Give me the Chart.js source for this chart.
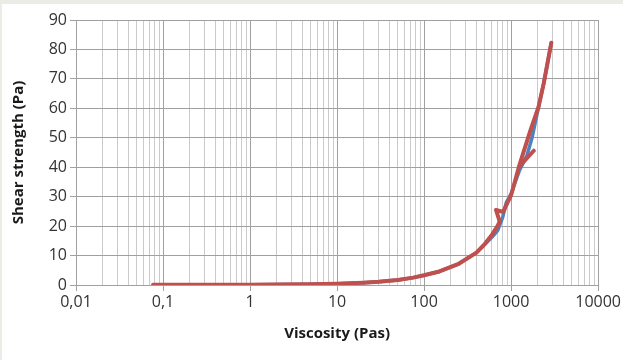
<!DOCTYPE html>
<html>
<head>
<meta charset="utf-8">
<script src="https://cdn.jsdelivr.net/npm/chart.js@4/dist/chart.umd.min.js"></script>
<style>
  html, body { margin: 0; padding: 0; background: #ffffff; }
  #wrap { position: relative; width: 623px; height: 360px; }
  #topband { position: absolute; left: 0; top: 0; width: 623px; height: 4px; background: #ecece7; }
  #leftband { position: absolute; left: 0; top: 0; width: 2px; height: 360px; background: #ecece7; }
</style>
</head>
<body>
<div id="wrap">
  <canvas id="c" width="623" height="360"></canvas>
  <div id="topband"></div>
  <div id="leftband"></div>
</div>
<script>
// Categories / tick labels
const xTickValues = [0.01, 0.1, 1, 10, 100, 1000, 10000];
const xTickLabels = ['0,01', '0,1', '1', '10', '100', '1000', '10000'];
const yTickValues = [0, 10, 20, 30, 40, 50, 60, 70, 80, 90];

// Series 1 (blue)
const blueX = [0.077, 0.2, 0.5, 1, 2, 5, 10, 20, 30, 50, 75, 100, 150, 250, 400, 500, 600, 700, 800, 880, 1000, 1250, 1520, 1740, 2070, 2370, 2900];
const blueY = [0.1, 0.1, 0.1, 0.1, 0.15, 0.25, 0.45, 0.8, 1.1, 1.7, 2.5, 3.3, 4.6, 7.2, 11.0, 13.8, 16.2, 18.5, 23.0, 28.0, 31.0, 39.0, 44.0, 50.0, 60.6, 68.5, 82.3];

// Series 2 (red)
const redX = [0.077, 0.2, 0.5, 1, 2, 5, 10, 20, 30, 50, 75, 100, 150, 250, 400, 500, 600, 680, 740, 670, 810, 1000, 1225, 1820, null, 1225, 1670, 2070, 2370, 2900];
const redY = [0.1, 0.1, 0.1, 0.1, 0.15, 0.25, 0.45, 0.8, 1.1, 1.7, 2.5, 3.3, 4.6, 7.2, 11.0, 14.0, 17.0, 19.5, 21.5, 25.5, 24.8, 30.5, 40.0, 45.6, null, 40.0, 52.6, 60.6, 68.5, 82.3];

function toPoints(xs, ys) {
  return xs.map((x, i) => ({ x: x, y: ys[i] }));
}

const FONT = '"Open Sans", "Liberation Sans", sans-serif';

function isDecade(v) {
  const l = Math.log10(v);
  return Math.abs(l - Math.round(l)) < 1e-9;
}

const chart = new Chart(document.getElementById('c'), {
  type: 'scatter',
  data: {
    datasets: [
      {
        label: 'Series 1',
        data: toPoints(blueX, blueY),
        order: 2,
        showLine: true,
        borderColor: '#4f81bd',
        backgroundColor: '#4f81bd',
        borderWidth: 3.5,
        pointRadius: 0,
        tension: 0,
        spanGaps: false,
        borderJoinStyle: 'round',
        borderCapStyle: 'round'
      },
      {
        label: 'Series 2',
        data: toPoints(redX, redY),
        order: 1,
        showLine: true,
        borderColor: '#c0504d',
        backgroundColor: '#c0504d',
        borderWidth: 4,
        pointRadius: 0,
        tension: 0,
        spanGaps: false,
        borderJoinStyle: 'round',
        borderCapStyle: 'round'
      }
    ]
  },
  options: {
    responsive: false,
    animation: false,
    layout: { padding: { top: 20, right: 23, bottom: 17, left: 10 } },
    plugins: { legend: { display: false }, tooltip: { enabled: false } },
    scales: {
      x: {
        type: 'logarithmic',
        min: 0.01,
        max: 10000,
        afterBuildTicks: (scale) => {
          const t = [];
          for (let d = -2; d <= 4; d++) {
            for (let m = 1; m <= 9; m++) {
              const v = m * Math.pow(10, d);
              if (v > 10000 * 1.0001) break;
              t.push({ value: v });
            }
          }
          scale.ticks = t;
        },
        afterFit: (scale) => { scale.height = 58; },
        border: { display: true, color: '#a0a0a0', width: 1 },
        grid: {
          color: (ctx) => (ctx.tick && isDecade(ctx.tick.value)) ? '#a0a0a0' : '#cbcbcb',
          tickColor: (ctx) => (ctx.tick && isDecade(ctx.tick.value)) ? '#a0a0a0' : 'rgba(0,0,0,0)',
          tickLength: 6,
          lineWidth: 1
        },
        ticks: {
          autoSkip: false,
          maxRotation: 0,
          minRotation: 0,
          padding: 2,
          color: '#333333',
          font: { family: FONT, size: 16 },
          callback: (v) => {
            const i = xTickValues.findIndex(t => Math.abs(t - v) / t < 1e-9);
            return i >= 0 ? xTickLabels[i] : '';
          }
        },
        title: {
          display: true,
          text: 'Viscosity (Pas)',
          color: '#1a1a1a',
          font: { family: FONT, size: 15, weight: 'bold' },
          padding: { top: 4, bottom: 0 }
        }
      },
      y: {
        type: 'linear',
        min: 0,
        max: 90,
        afterBuildTicks: (scale) => { scale.ticks = yTickValues.map(v => ({ value: v })); },
        afterFit: (scale) => { scale.width = 66; },
        border: { display: true, color: '#a0a0a0', width: 1 },
        grid: {
          color: '#a0a0a0',
          tickColor: '#a0a0a0',
          tickLength: 6,
          lineWidth: 1
        },
        ticks: {
          padding: 3,
          color: '#333333',
          font: { family: FONT, size: 16 },
          callback: (v) => String(v)
        },
        title: {
          display: true,
          text: 'Shear strength (Pa)',
          color: '#1a1a1a',
          font: { family: FONT, size: 15, weight: 'bold' },
          padding: { top: 0, bottom: 2 }
        }
      }
    }
  }
});
</script>
</body>
</html>
